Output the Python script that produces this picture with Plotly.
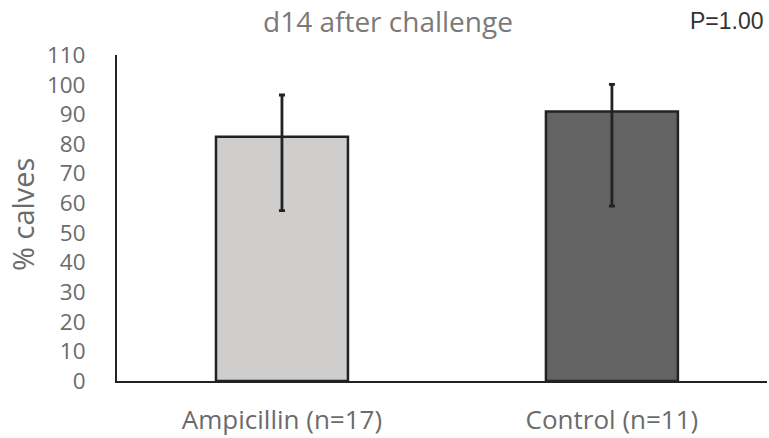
import plotly.graph_objects as go

categories = ["Ampicillin (n=17)", "Control (n=11)"]
values = [82.4, 90.9]
err_plus = [14.1, 9.2]
err_minus = [24.9, 31.9]
bar_colors = ["#cfcecd", "#636363"]
y_ticks = list(range(0, 111, 10))

W, H = 769, 438
ml, mr, mt, mb = 117, 2, 55, 57
plot_h = H - mt - mb
plot_w = W - ml - mr

def py(p):  # pixel row -> paper y
    return (H - mb - p) / plot_h

def px(p):  # pixel column -> paper x
    return (p - ml) / plot_w

fig = go.Figure()
fig.add_trace(go.Bar(
    x=[0, 1], y=values, width=0.40,
    marker=dict(color=bar_colors, line=dict(color="#222222", width=2.5)),
    error_y=dict(type="data", symmetric=False, array=err_plus, arrayminus=err_minus,
                 color="#222222", thickness=2.8, width=3),
    showlegend=False,
))

fig.update_layout(
    width=W, height=H,
    margin=dict(l=ml, r=mr, t=mt, b=mb, pad=0),
    plot_bgcolor="white", paper_bgcolor="white",
    xaxis=dict(range=[-0.5, 1.47], tickvals=[0, 1], ticktext=categories,
               showline=True, linecolor="#222222", linewidth=2, ticks="",
               showgrid=False, zeroline=False,
               tickfont=dict(family="Open Sans", size=26, color="#6b6b6b"),
               ticklabelstandoff=15),
    yaxis=dict(range=[0, 110], tickvals=y_ticks, showline=True, linecolor="#222222",
               linewidth=2, ticks="", showgrid=False, zeroline=False,
               tickfont=dict(family="Open Sans", size=22.5, color="#6b6b6b"),
               ticklabelstandoff=25),
    annotations=[
        dict(text="d14 after challenge", xref="paper", yref="paper",
             x=px(388), y=py(21), xanchor="center", yanchor="middle",
             showarrow=False, font=dict(family="Open Sans", size=28, color="#7a7a7a")),
        dict(text="P=1.00", xref="paper", yref="paper",
             x=px(688), y=py(21), xanchor="left", yanchor="middle",
             showarrow=False, font=dict(family="Liberation Sans", size=23, color="#333333")),
        dict(text="% calves", xref="paper", yref="paper", textangle=-90,
             x=px(22), y=py(215), xanchor="center", yanchor="middle",
             showarrow=False, font=dict(family="Open Sans", size=29, color="#6b6b6b")),
    ],
)

fig.write_html("out.html", config={"displayModeBar": False},
               post_script="document.body.style.margin='0';")
